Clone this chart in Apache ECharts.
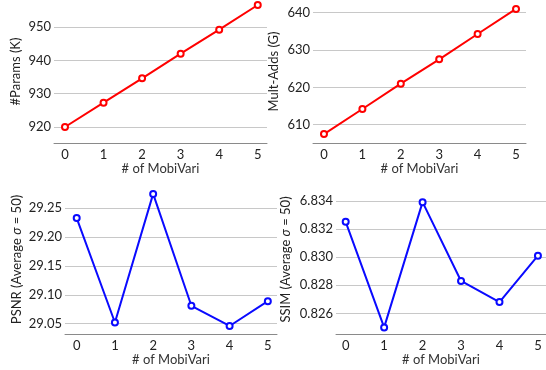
<!DOCTYPE html>
<html>
<head>
<meta charset="utf-8">
<script src="https://cdn.jsdelivr.net/npm/echarts@6/dist/echarts.min.js"></script>
<style>
  html, body { margin: 0; padding: 0; background: #fff; }
  #chart { width: 546px; height: 370px; }
</style>
</head>
<body>
<div id="chart"></div>
<script>
// x categories: number of MobiVari blocks
const mobiVari = [0, 1, 2, 3, 4, 5];

// series values
const paramsK = [920.0, 927.3, 934.6, 942.0, 949.2, 956.6];
const multAddsG = [607.5, 614.2, 621.0, 627.5, 634.3, 641.0];
const psnr = [29.233, 29.052, 29.275, 29.081, 29.046, 29.089];
const ssim = [0.8325, 0.8250, 0.8339, 0.8283, 0.8268, 0.8301];

// tick values and their labels
const paramsTicks = [920, 930, 940, 950];
const paramsLabels = ['920', '930', '940', '950'];
const multTicks = [610, 620, 630, 640];
const multLabels = ['610', '620', '630', '640'];
const psnrTicks = [29.05, 29.10, 29.15, 29.20, 29.25];
const psnrLabels = ['29.05', '29.10', '29.15', '29.20', '29.25'];
const ssimTicks = [0.826, 0.828, 0.830, 0.832, 0.834];
const ssimLabels = ['0.826', '0.828', '0.830', '0.832', '6.834'];

const FONT = 'Lato, "Open Sans", sans-serif';
const RED = '#ff0000';
const BLUE = '#0a0aff';

const chart = echarts.init(document.getElementById('chart'));

function labelFor(ticks, labels) {
  return v => {
    let best = 0;
    ticks.forEach((t, i) => {
      if (Math.abs(t - v) < Math.abs(ticks[best] - v)) best = i;
    });
    return labels[best];
  };
}

function xAxis(gridIndex, min, max) {
  return {
    gridIndex,
    type: 'value',
    min,
    max,
    name: '# of MobiVari',
    nameLocation: 'middle',
    nameGap: 19,
    nameTextStyle: { fontFamily: FONT, fontSize: 13, color: '#333' },
    axisLine: { show: true, lineStyle: { color: '#8a8a8a', width: 1 } },
    axisTick: { show: false, customValues: mobiVari },
    axisLabel: { customValues: mobiVari, margin: 5, fontFamily: FONT, fontSize: 13, color: '#222' },
    splitLine: { show: false }
  };
}

function yAxis(gridIndex, min, max, name, nameGap, ticks, labels) {
  return {
    gridIndex,
    type: 'value',
    min,
    max,
    name,
    nameLocation: 'middle',
    nameGap,
    nameRotate: 90,
    nameTextStyle: {
      fontFamily: FONT,
      fontSize: 13,
      color: '#222',
      rich: { it: { fontFamily: FONT, fontSize: 13, fontStyle: 'italic', color: '#222' } }
    },
    axisLine: { show: false },
    axisTick: { show: false, customValues: ticks },
    axisLabel: {
      customValues: ticks,
      margin: 3,
      fontFamily: FONT,
      fontSize: 13,
      color: '#222',
      formatter: labelFor(ticks, labels)
    },
    splitLine: { show: true, lineStyle: { color: '#c8c8c8', width: 1.2 } }
  };
}

function lineSeries(index, data, color) {
  return {
    type: 'line',
    xAxisIndex: index,
    yAxisIndex: index,
    data: mobiVari.map((x, i) => [x, data[i]]),
    symbol: 'emptyCircle',
    symbolSize: 6,
    lineStyle: { color, width: 2 },
    itemStyle: { color, borderColor: color, borderWidth: 1.5 },
    animation: false
  };
}

const option = {
  animation: false,
  grid: [
    { left: 54, top: 0, width: 213, height: 143 },
    { left: 313, top: 0, width: 213, height: 143 },
    { left: 65, top: 185, width: 212, height: 149 },
    { left: 336, top: 185, width: 210, height: 149 }
  ],
  xAxis: [
    xAxis(0, -0.285, 5.24),
    xAxis(1, -0.286, 5.26),
    xAxis(2, -0.306, 5.24),
    xAxis(3, -0.252, 5.21)
  ],
  yAxis: [
    yAxis(0, 915.2, 958.1, '#Params (K)', 32, paramsTicks, paramsLabels),
    yAxis(1, 605.1, 643.4, 'Mult-Adds (G)', 33, multTicks, multLabels),
    yAxis(2, 29.0321, 29.2904, 'PSNR (Average {it|σ} = 50)', 42, psnrTicks, psnrLabels),
    yAxis(3, 0.82453, 0.83512, 'SSIM (Average {it|σ} = 50)', 44, ssimTicks, ssimLabels)
  ],
  series: [
    lineSeries(0, paramsK, RED),
    lineSeries(1, multAddsG, RED),
    lineSeries(2, psnr, BLUE),
    lineSeries(3, ssim, BLUE)
  ]
};

chart.setOption(option);
</script>
</body>
</html>
